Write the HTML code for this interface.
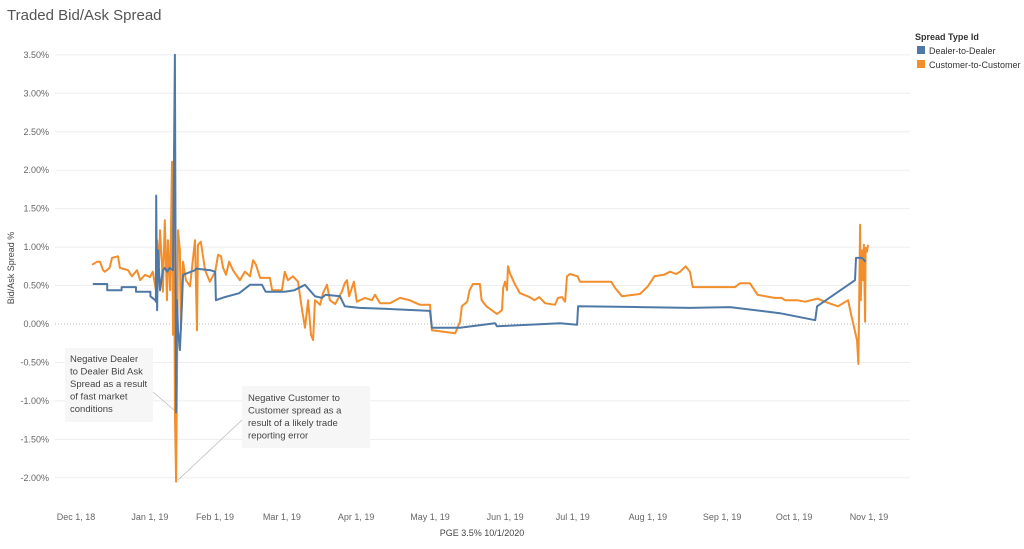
<!DOCTYPE html>
<html><head><meta charset="utf-8"><style>
body{margin:0;background:#fff;font-family:"Liberation Sans",sans-serif;}
svg text{font-family:"Liberation Sans",sans-serif;}
</style></head><body>
<svg id="chart" width="1024" height="544" xmlns="http://www.w3.org/2000/svg">
<text x="7" y="20" font-size="15" fill="#555">Traded Bid/Ask Spread</text>
<g id="grid"></g><g id="axes"></g>
<g>
<line x1="153" y1="392" x2="174" y2="410" stroke="#bbb" stroke-width="0.8"/>
<rect x="65" y="348" width="88" height="74" fill="#f6f6f6"/>
<text x="70" y="362" font-size="9.5" fill="#444"><tspan x="70">Negative Dealer</tspan><tspan x="70" dy="12.5">to Dealer Bid Ask</tspan><tspan x="70" dy="12.5">Spread as a result</tspan><tspan x="70" dy="12.5">of fast market</tspan><tspan x="70" dy="12.5">conditions</tspan></text>
</g>
<g>
<line x1="242" y1="420" x2="178" y2="480" stroke="#bbb" stroke-width="0.8"/>
<rect x="242" y="386" width="128" height="62" fill="#f6f6f6"/>
<text x="248" y="401" font-size="9.5" fill="#444"><tspan x="248">Negative Customer to</tspan><tspan x="248" dy="12.5">Customer spread as a</tspan><tspan x="248" dy="12.5">result of a likely trade</tspan><tspan x="248" dy="12.5">reporting error</tspan></text>
</g>
<g id="series"></g>
<g>
<text x="915" y="40" font-size="9" font-weight="bold" fill="#333">Spread Type Id</text>
<rect x="917" y="46" width="8" height="8" fill="#4e79a7"/>
<text x="929" y="54" font-size="9" fill="#333">Dealer-to-Dealer</text>
<rect x="917" y="60" width="8" height="8" fill="#f28e2b"/>
<text x="929" y="68" font-size="9" fill="#333">Customer-to-Customer</text>
</g>
<text x="482" y="536" font-size="9" fill="#444" text-anchor="middle">PGE 3.5% 10/1/2020</text>
<text transform="translate(14,268) rotate(-90)" font-size="9" fill="#444" text-anchor="middle">Bid/Ask Spread %</text>
</svg>
<script>
const yTicks=[-2,-1.5,-1,-0.5,0,0.5,1,1.5,2,2.5,3,3.5];
const xTickDays=[0,30.8,57.9,85.8,116.7,147.5,178.8,207,238.3,269.2,299.2,330.4];
const xTickLabels=["Dec 1, 18","Jan 1, 19","Feb 1, 19","Mar 1, 19","Apr 1, 19","May 1, 19","Jun 1, 19","Jul 1, 19","Aug 1, 19","Sep 1, 19","Oct 1, 19","Nov 1, 19"];
const dealerDays=[7,13,13,19,19,25,25,31,31,33,33.3,33.4,33.8,34.2,35,36.2,37,38,39,40.4,41.2,41.7,42.1,42.5,43.3,44.2,44.6,49.6,50,56,58,58.3,62,68,72.5,77.5,79,87,91,95.4,99.6,102.5,104,110,112,118,127,147.5,148.3,160,174.6,175.4,201.7,208.8,209.2,235,255.8,272.5,293.3,308,308.8,324.6,325,327.5,329];
const dealerVals=[.52,.52,.44,.44,.48,.48,.42,.42,.36,.31,.29,1.67,.18,.96,.44,.70,.73,.68,.73,.70,3.5,-1.15,.31,-.08,-.34,.31,.64,.70,.72,.70,.68,.31,.35,.40,.51,.51,.42,.42,.44,.51,.36,.34,.38,.36,.23,.21,.20,.17,-.05,-.05,.01,-.03,.01,-.01,.23,.22,.21,.22,.14,.05,.23,.57,.86,.86,.81];
const custDays=[6.7,8.8,10,11.3,12,14,15,17.5,18.3,21.7,23.3,25.4,26.7,28.8,30.8,32,33.3,33.8,34.6,35,35.8,36.2,37,37.9,38.3,39.2,40,40.4,40.8,41.2,41.7,42.1,42.5,43.3,43.7,44.6,45.8,47.5,49.6,50.4,50.8,52,53.8,55.8,58,59.2,60.4,61.3,62.5,63.8,65.4,68.3,70.4,72.5,73.8,75,76.7,80.8,81.7,85.8,87,88.3,90.4,92.5,94.2,95.4,96.7,97.9,98.8,99.6,101.7,102.9,104.6,105.8,108,110.8,112,112.9,113.8,115.8,117,120.4,123.3,124.6,126.7,130.8,135,139,143.3,147.5,148.3,158,160,160.8,163,164,165.4,168.3,169,171,175.4,177.5,178,178.8,179.6,180,180.8,183,185,189,191,193,195.4,199.6,200.8,202.5,203.8,204.6,205.8,209,210,218,223,224.6,227.5,235,238.3,241,245,247.5,250,251.7,254,255.8,257,262,274.6,276.7,280.8,284,291,294,295.4,300.4,303.8,309,312,317.5,321.7,323,325.4,326,326.7,327,327.5,328,328.3,328.8,329,329.6,330];
const custVals=[.77,.81,.81,.70,.68,.73,.86,.88,.73,.70,.62,.70,.57,.64,.61,.68,.44,1.09,.77,1.22,.81,.42,1.35,.31,1.09,.44,2.11,-.14,1.87,-1.12,-2.05,-.73,1.22,.96,-.08,.81,.57,.49,1.09,-.08,1.03,1.07,.70,.55,.68,.90,.88,.73,.64,.81,.70,.57,.68,.62,.83,.77,.60,.60,.44,.44,.68,.57,.62,.55,.18,-.05,.31,-.14,-.21,.31,.25,.40,.51,.31,.26,.42,.53,.57,.36,.55,.29,.34,.31,.38,.27,.27,.34,.31,.25,.25,-.08,-.12,.03,.23,.29,.44,.52,.52,.31,.23,.13,.18,.47,.55,.44,.75,.66,.51,.40,.35,.31,.35,.27,.25,.34,.35,.29,.62,.65,.62,.55,.55,.55,.47,.36,.39,.49,.62,.64,.68,.65,.68,.75,.68,.48,.48,.48,.53,.53,.38,.34,.34,.31,.31,.29,.33,.29,.23,.31,.12,-.21,-.52,1.29,.31,.96,.57,1.03,.03,.99,.94,1.03];
const NS="http://www.w3.org/2000/svg";
const X0=55,X1=910;
function xs(d){return 76+d*2.4;}
function ys(v){return 324-v*76.9;}
const grid=document.getElementById('grid'),axes=document.getElementById('axes'),ser=document.getElementById('series');
yTicks.forEach(t=>{
 const l=document.createElementNS(NS,'line');
 
 
 l.setAttribute('x1',X0);l.setAttribute('x2',X1);l.setAttribute('y1',ys(t));l.setAttribute('y2',ys(t));
 l.setAttribute('stroke',t===0?'#bbb':'#eee');l.setAttribute('stroke-width','1');
 if(t===0)l.setAttribute('stroke-dasharray','1,2');
 grid.appendChild(l);
 const tx=document.createElementNS(NS,'text');
 
 
 tx.setAttribute('x',49);tx.setAttribute('y',ys(t)+3);tx.setAttribute('text-anchor','end');
 tx.setAttribute('font-size','9');tx.setAttribute('fill','#666');
 tx.textContent=t.toFixed(2)+'%';axes.appendChild(tx);
});
xTickDays.forEach((d,i)=>{
 const tx=document.createElementNS(NS,'text');
 
 
 tx.setAttribute('x',xs(d));tx.setAttribute('y',520);tx.setAttribute('text-anchor','middle');
 tx.setAttribute('font-size','9');tx.setAttribute('fill','#666');
 tx.textContent=xTickLabels[i];axes.appendChild(tx);
});
function drawLine(days,vals,color,name){
 const p=document.createElementNS(NS,'polyline');
 
 
 p.setAttribute('points',days.map((d,i)=>xs(d).toFixed(1)+','+ys(vals[i]).toFixed(1)).join(' '));
 p.setAttribute('fill','none');p.setAttribute('stroke',color);p.setAttribute('stroke-width','2');p.setAttribute('stroke-linejoin','round');
 ser.appendChild(p);
}
drawLine(custDays,custVals,'#f28e2b','customer-to-customer-line');
drawLine(dealerDays,dealerVals,'#4e79a7','dealer-to-dealer-line');
</script>
</body></html>
